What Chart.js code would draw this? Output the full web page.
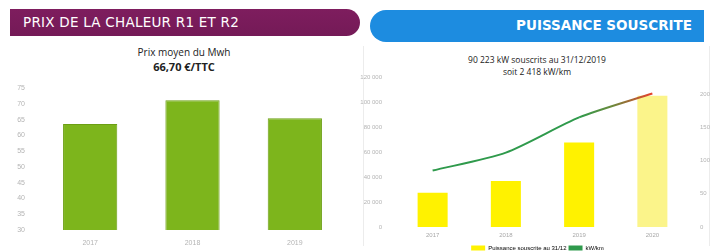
<!DOCTYPE html>
<html>
<head>
<meta charset="utf-8">
<script src="https://cdn.jsdelivr.net/npm/chart.js@4.4.0/dist/chart.umd.min.js"></script>
<style>
  body { margin: 0; width: 715px; height: 251px; background: #fff; position: relative; overflow: hidden; font-family: "Liberation Sans", Arial, sans-serif; }
  .band { position: absolute; color: #fff; box-sizing: border-box; font-family: "DejaVu Sans", sans-serif; white-space: nowrap; }
  #bandLeft { left: 10px; top: 9px; width: 350px; height: 27px; background: linear-gradient(#7e1d5e, #741a57); border-radius: 0 14px 14px 0; font-size: 13.5px; letter-spacing: 0.25px; padding: 5px 0 0 13px; }
  #bandRight { left: 370px; top: 10px; width: 334px; height: 32px; background: #1d8ce0; border-radius: 16px 0 0 16px; font-size: 13.5px; font-weight: bold; text-align: right; padding: 7px 12px 0 0; }
  .txt { position: absolute; text-align: center; color: #222; font-family: "Open Sans", sans-serif; white-space: nowrap; }
  .vline { position: absolute; width: 1px; background: #ececec; }
  canvas { position: absolute; }
</style>
</head>
<body>
<div class="band" id="bandLeft">PRIX DE LA CHALEUR R1 ET R2</div>
<div class="band" id="bandRight">PUISSANCE SOUSCRITE</div>
<div class="txt" style="left:84px;width:200px;top:45px;font-size:10px;">Prix moyen du Mwh</div>
<div class="txt" style="left:84px;width:200px;top:59px;font-size:11px;font-weight:bold;">66,70 €/TTC</div>
<div class="txt" style="left:437px;width:200px;top:54px;font-size:8.5px;">90 223 kW souscrits au 31/12/2019</div>
<div class="txt" style="left:437px;width:200px;top:66px;font-size:8.5px;">soit 2 418 kW/km</div>
<div class="vline" style="left:363px;top:46px;height:200px;"></div>
<div class="vline" style="left:709px;top:46px;height:200px;"></div>

<canvas id="prixChart" style="left:0px;top:78px;width:360px;height:173px;" width="360" height="173"></canvas>
<canvas id="puissanceChart" style="left:360px;top:68px;width:355px;height:193px;" width="355" height="193"></canvas>

<script>
const prixYears = ['2017', '2018', '2019']
const prixValues = [63.6, 71.2, 65.5]
const prixTicks = [30, 35, 40, 45, 50, 55, 60, 65, 70, 75]

const puissanceYears = ['2017', '2018', '2019', '2020']
const puissanceKw = [27600, 37000, 67900, 105500]
const densiteKwKm = [85, 112, 165, 201]
const puissanceLabels = ['Puissance souscrite au 31/12', 'kW/km']

const tickColor = '#b4b4b4'

function fillPrixChart() {
  const ctx = document.getElementById('prixChart').getContext('2d')
  new Chart(ctx, {
    type: 'bar',
    data: {
      labels: prixYears,
      datasets: [{
        data: prixValues,
        backgroundColor: '#7db51c',
        borderColor: '#6c9f14',
        borderWidth: 1,
        categoryPercentage: 1,
        barPercentage: 0.53
      }]
    },
    options: {
      responsive: false,
      animation: false,
      layout: {padding: {top: 9, right: 14, bottom: 0, left: 0}},
      plugins: {legend: {display: false}, tooltip: {enabled: false}},
      scales: {
        x: {
          grid: {display: false},
          border: {display: false},
          ticks: {color: tickColor, font: {size: 7}, padding: 1},
          afterFit: (scale) => { scale.height = 21 }
        },
        y: {
          min: prixTicks[0],
          max: prixTicks[prixTicks.length - 1],
          grid: {display: false},
          border: {display: false},
          afterBuildTicks: (scale) => { scale.ticks = prixTicks.map(v => ({value: v})) },
          ticks: {color: tickColor, font: {size: 7}, padding: 6},
          afterFit: (scale) => { scale.width = 39 }
        }
      }
    }
  })
}

function fillPuissanceChart() {
  const ctx = document.getElementById('puissanceChart').getContext('2d')
  new Chart(ctx, {
    data: {
      labels: puissanceYears,
      datasets: [{
        type: 'line',
        label: puissanceLabels[1],
        data: densiteKwKm,
        yAxisID: 'y2',
        borderColor: '#2f9a4c',
        backgroundColor: '#2f9a4c',
        borderWidth: 2,
        pointRadius: 0,
        tension: 0.25,
        segment: {
          borderColor: (c) => {
            if (c.p1DataIndex !== densiteKwKm.length - 1) return '#2f9a4c'
            const g = c.chart.ctx.createLinearGradient(c.p0.x, 0, c.p1.x, 0)
            g.addColorStop(0, '#2f9a4c')
            g.addColorStop(0.45, '#6b8a3c')
            g.addColorStop(1, '#e8402c')
            return g
          }
        },
        order: 0
      }, {
        type: 'bar',
        label: puissanceLabels[0],
        data: puissanceKw,
        yAxisID: 'y',
        backgroundColor: ['#fff200', '#fff200', '#fff200', '#fbf48a'],
        borderWidth: 0,
        categoryPercentage: 1,
        barPercentage: 0.41,
        order: 1
      }]
    },
    options: {
      responsive: false,
      animation: false,
      layout: {padding: {top: 0, right: 0, bottom: 0, left: 0}},
      plugins: {
        tooltip: {enabled: false},
        legend: {
          position: 'bottom',
          labels: {
            color: tickColor,
            font: {size: 6},
            boxWidth: 14,
            boxHeight: 5,
            padding: 2,
            generateLabels: (chart) => [
              {text: puissanceLabels[0], fillStyle: '#fff200', strokeStyle: '#fff200', lineWidth: 0, datasetIndex: 1},
              {text: puissanceLabels[1], fillStyle: '#2f9a4c', strokeStyle: '#2f9a4c', lineWidth: 0, datasetIndex: 0}
            ]
          }
        }
      },
      scales: {
        x: {
          grid: {display: false, drawTicks: false},
          border: {display: false},
          ticks: {color: '#a8a8a8', font: {size: 6}, padding: 5, autoSkip: false, maxRotation: 0},
          afterFit: (scale) => { scale.height = 16 }
        },
        y: {
          min: 0,
          max: 120000,
          grid: {display: false},
          border: {display: false},
          ticks: {
            stepSize: 20000,
            color: tickColor,
            font: {size: 6},
            padding: 6,
            callback: (v) => v.toLocaleString('fr-FR').replace(/\u202f|\u00a0/g, ' ')
          },
          afterFit: (scale) => { scale.width = 36 }
        },
        y2: {
          position: 'right',
          min: 0,
          max: 225,
          grid: {display: false},
          border: {display: false},
          afterBuildTicks: (scale) => { scale.ticks = scale.ticks.filter(t => t.value % 50 === 0) },
          ticks: {stepSize: 50, color: tickColor, font: {size: 6}, padding: 3},
          afterFit: (scale) => { scale.width = 26 }
        }
      }
    }
  })
}

fillPrixChart()
fillPuissanceChart()
</script>
</body>
</html>
